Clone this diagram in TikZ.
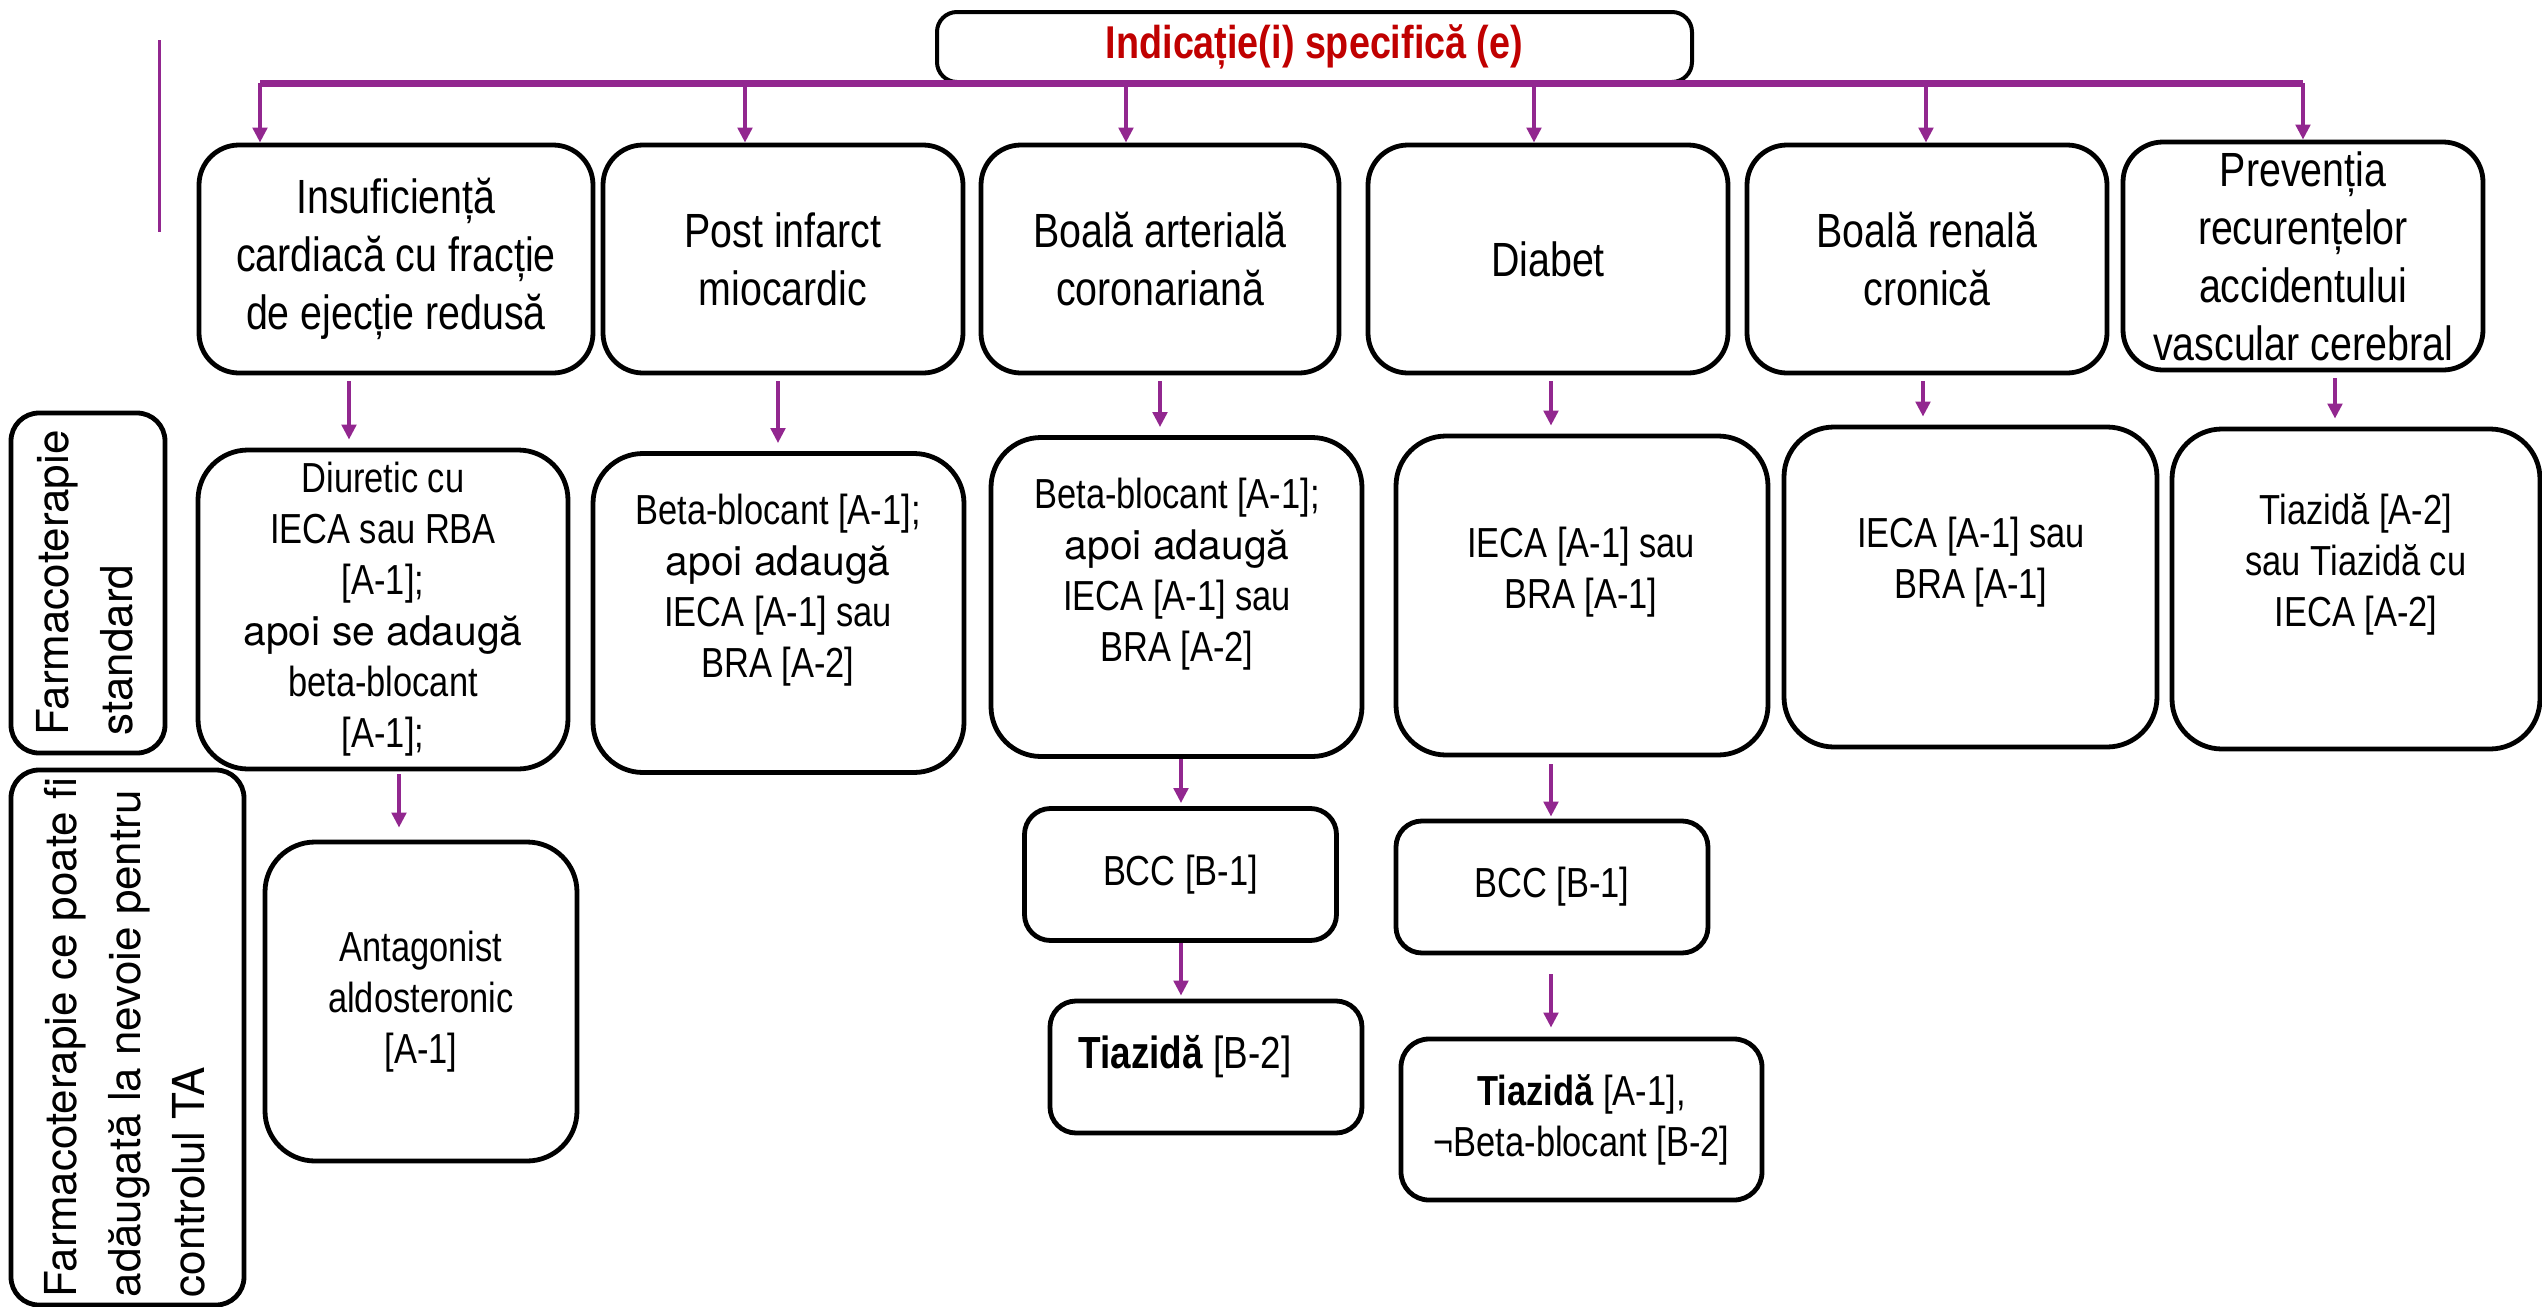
\documentclass[tikz,border=0pt]{standalone}
\usepackage{fontspec}
\usepackage{graphicx}
\setmainfont{Liberation Sans}[FakeStretch=0.82]
\newfontfamily\helvfont{TeX Gyre Heros}
\usetikzlibrary{arrows.meta,calc}

\definecolor{linkpurple}{RGB}{146,39,143}
\definecolor{titlered}{RGB}{192,0,0}

\newcommand{\addtxt}[1]{{\helvfont\fontsize{10.2}{12.75}\selectfont #1}}
\newcommand{\sidetxt}[1]{\rotatebox{90}{\helvfont\fontsize{11}{16}\selectfont\begin{tabular}{@{}l@{}}#1\end{tabular}}}

\tikzset{
    box/.style={draw, line width=1.2pt, align=center, inner sep=1pt},
    titlebox/.style={box, line width=1pt, rounded corners=5pt, minimum width=188.75pt, minimum height=17.5pt,
        text=titlered, font=\bfseries\fontsize{11.5}{13}\selectfont},
    rowone/.style={box, rounded corners=10pt, minimum width=90pt, minimum height=57pt,
        font=\fontsize{12}{14.5}\selectfont},
    bigbox/.style={box, rounded corners=12.5pt, minimum width=92.75pt, minimum height=79.75pt,
        font=\fontsize{10.5}{12.75}\selectfont},
    smallbox/.style={box, rounded corners=6.5pt, minimum width=78pt, minimum height=33pt,
        font=\fontsize{10.5}{12.75}\selectfont},
    txt/.style={align=center, inner sep=0pt, font=\fontsize{10.5}{12.75}\selectfont},
    sidebox/.style={box, rounded corners=7pt, inner sep=0pt},
    flow/.style={->, draw=linkpurple, fill=linkpurple, line width=1pt},
    bar/.style={draw=linkpurple, line width=1.75pt},
}

\begin{document}
\begin{tikzpicture}[x=0.25pt, y={(0pt,-0.25pt)}, >={Triangle[length=3.75pt,width=3.6pt]}]

    \useasboundingbox (0,0) rectangle (2542,1307);

    % draw title box
    \node[titlebox] (ind) at (1314.5,47) {Indicație(i) specifică (e)};

    % draw horizontal bar
    \coordinate (t1) at (260,83);
    \coordinate (t2) at (745,83);
    \coordinate (t3) at (1126,83);
    \coordinate (t4) at (1534,83);
    \coordinate (t5) at (1926,83);
    \coordinate (t6) at (2303,83);
    \draw[bar] (t1) -- (t6);
    \draw[linkpurple, line width=0.75pt] (159,40) -- (159,232);

    % draw indication boxes
    \node[rowone, minimum width=98.5pt] (ins) at (396,259) {Insuficiență\\ cardiacă cu fracție\\ de ejecție redusă};
    \node[rowone] (post) at (783,259) {Post infarct\\ miocardic};
    \node[rowone, minimum width=89.5pt] (cor) at (1160,259) {Boală arterială\\ coronariană};
    \node[rowone] (diab) at (1548,259) {Diabet};
    \node[rowone] (ren) at (1927,259) {Boală renală\\ cronică};
    \node[rowone] (prev) at (2303,256) {Prevenția\\ recurențelor\\ accidentului\\ vascular cerebral};

    \foreach \t/\b in {t1/ins, t2/post, t3/cor, t4/diab, t5/ren, t6/prev}
        \draw[flow] (\t) -- (\t |- \b.north);

    % draw side labels
    \node[sidebox, minimum width=38.5pt, minimum height=85pt] (std) at (88,583)
        {\sidetxt{Farmacoterapie\\ standard}};
    \node[sidebox, minimum width=58.25pt, minimum height=133.75pt] (extra) at (127.5,1037.5)
        {\sidetxt{Farmacoterapie ce poate fi\\ adăugată la nevoie pentru\\ controlul TA}};

    % draw standard therapy boxes
    \node[bigbox, minimum width=92.5pt] (diu) at (383,609.5) {Diuretic cu\\ IECA sau RBA\\ {[A-1];}\\ \addtxt{apoi se adaugă}\\ beta-blocant\\ {[A-1];}};
    \node[bigbox] (bb2) at (778.5,613) {};
    \node[txt] (bb2t) at (778,590) {Beta-blocant [A-1];\\ \addtxt{apoi adaugă}\\ IECA [A-1] sau\\ BRA [A-2]};
    \node[bigbox] (bb3) at (1176.5,597) {};
    \node[txt] (bb3t) at (1177,574) {Beta-blocant [A-1];\\ \addtxt{apoi adaugă}\\ IECA [A-1] sau\\ BRA [A-2]};
    \node[bigbox, minimum width=93pt] (ib4) at (1582,595.5) {};
    \node[txt] (ib4t) at (1581,572) {IECA [A-1] sau\\ BRA [A-1]};
    \node[bigbox, minimum width=93.25pt, minimum height=80pt] (ib5) at (1970.5,587) {};
    \node[txt] (ib5t) at (1971,562.5) {IECA [A-1] sau\\ BRA [A-1]};
    \node[bigbox, minimum width=92pt, minimum height=80pt] (tz6) at (2356,589) {};
    \node[txt] (tz6t) at (2356,564) {Tiazidă [A-2]\\ sau Tiazidă cu\\ IECA [A-2]};

    % draw add-on boxes
    \node[bigbox, minimum width=78pt] (ant) at (421,1001.5) {Antagonist\\ aldosteronic\\ {[A-1]}};
    \node[smallbox] (bcc3) at (1180.5,874.5) {BCC [B-1]};
    \node[smallbox] (tz3) at (1206,1067) {};
    \node[txt, font=\fontsize{11.25}{13}\selectfont] (tz3t) at (1185,1057) {\textbf{Tiazidă} [B-2]};
    \node[smallbox] (bcc4) at (1552,887) {BCC [B-1]};
    \node[smallbox, minimum width=90.25pt, minimum height=40.25pt, rounded corners=7pt] (tz4) at (1581.5,1119.5)
        {\textbf{Tiazidă} [A-1],\\ ¬Beta-blocant [B-2]};

    % draw vertical arrows
    \coordinate (k1) at (349,0);
    \coordinate (k2) at (778,0);
    \coordinate (k3) at (1160,0);
    \coordinate (k4) at (1551,0);
    \coordinate (k5) at (1923,0);
    \coordinate (k6) at (2335,0);
    \coordinate (k7) at (399,0);
    \coordinate (k8) at (1181,0);

    \foreach \a/\b/\k in {ins/diu/k1, post/bb2/k2, cor/bb3/k3, diab/ib4/k4, ren/ib5/k5, prev/tz6/k6}
        \draw[flow, shorten <=1.5pt, shorten >=2pt] (\a.south -| \k) -- (\b.north -| \k);

    \draw[flow, shorten <=0.75pt, shorten >=3pt] (diu.south -| k7) -- (ant.north -| k7);
    \draw[flow, shorten >=0.75pt] (bb3.south -| k8) -- (bcc3.north -| k8);
    \draw[flow, shorten >=0.75pt] (bcc3.south -| k8) -- (tz3.north -| k8);
    \draw[flow, shorten <=1.75pt, shorten >=0.5pt] (ib4.south -| k4) -- (bcc4.north -| k4);
    \draw[flow, shorten <=4.75pt, shorten >=2.25pt] (bcc4.south -| k4) -- (tz4.north -| k4);

\end{tikzpicture}
\end{document}
